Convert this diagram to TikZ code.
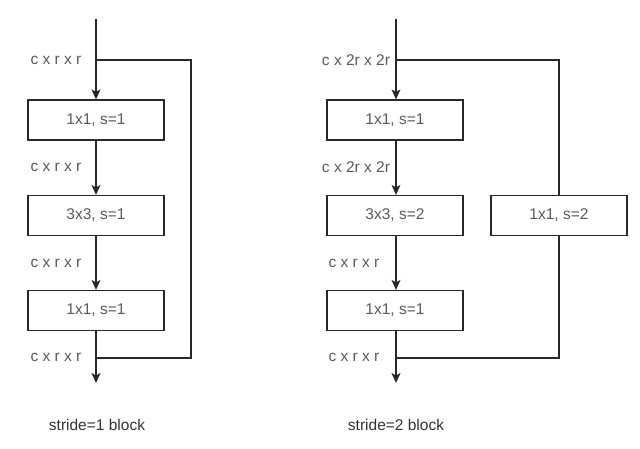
\documentclass[tikz,border=0pt]{standalone}
\usepackage{fontspec}
\setmainfont{Liberation Sans}
\usetikzlibrary{arrows.meta}
\definecolor{txtgray}{RGB}{90,90,90}
\definecolor{linegray}{RGB}{40,40,40}
\begin{document}
\begin{tikzpicture}[x=1pt,y=-1pt,
  blk/.style={draw=linegray,line width=1.2pt,minimum width=136pt,minimum height=40pt,inner sep=0pt,
    font=\fontsize{15.5}{18}\selectfont,text=txtgray},
  lbl/.style={font=\fontsize{15.5}{18}\selectfont,text=txtgray,inner sep=0pt},
  captxt/.style={font=\fontsize{15.5}{18}\selectfont,text=black!80,inner sep=0pt},
  ln/.style={draw=linegray,line width=1.2pt},
  arr/.style={ln,-{Stealth[length=10pt,width=9pt,inset=2.5pt]}}]
\useasboundingbox (0,0) rectangle (640,449);
\fill[white] (0,0) rectangle (640,449);
% left block
\coordinate (ltop) at (96,19);
\coordinate (lsplit) at (96,60);
\coordinate (lright) at (191,60);
\coordinate (ljoin) at (96,358);
\coordinate (lend) at (96,383);
\node[blk] (l1) at (96,120) {1x1, s=1};
\node[blk] (l2) at (96,215.5) {3x3, s=1};
\node[blk] (l3) at (96,310.5) {1x1, s=1};
\draw[arr] (ltop) -- (l1.north);
\draw[arr] (l1.south) -- (l2.north);
\draw[arr] (l2.south) -- (l3.north);
\draw[arr] (l3.south) -- (lend);
\draw[ln] (lsplit) -- (lright) |- (ljoin);
\node[lbl] (la) at (56,60) {c x r x r};
\node[lbl] (lb) at (56,167) {c x r x r};
\node[lbl] (lc) at (56,263) {c x r x r};
\node[lbl] (ld) at (56,357) {c x r x r};
\node[captxt] (lcap) at (97,425) {stride=1 block};
% right block
\coordinate (rtop) at (396,19);
\coordinate (rsplit) at (396,60);
\coordinate (rjoin) at (396,358);
\coordinate (rend) at (396,383);
\node[blk] (r1) at (395,120) {1x1, s=1};
\node[blk] (r2) at (395,215.5) {3x3, s=2};
\node[blk] (r3) at (395,310.5) {1x1, s=1};
\node[blk] (r4) at (559,215.5) {1x1, s=2};
\draw[arr] (rtop) -- (rtop |- r1.north);
\draw[arr] (rtop |- r1.south) -- (rtop |- r2.north);
\draw[arr] (rtop |- r2.south) -- (rtop |- r3.north);
\draw[arr] (rtop |- r3.south) -- (rend);
\draw[ln] (rsplit) -| (r4.north);
\draw[ln] (r4.south) |- (rjoin);
\node[lbl] (ra) at (356,60) {c x 2r x 2r};
\node[lbl] (rb) at (356,167) {c x 2r x 2r};
\node[lbl] (rc) at (354,263) {c x r x r};
\node[lbl] (rd) at (354,357) {c x r x r};
\node[captxt] (rcap) at (396,425) {stride=2 block};
\end{tikzpicture}
\end{document}
